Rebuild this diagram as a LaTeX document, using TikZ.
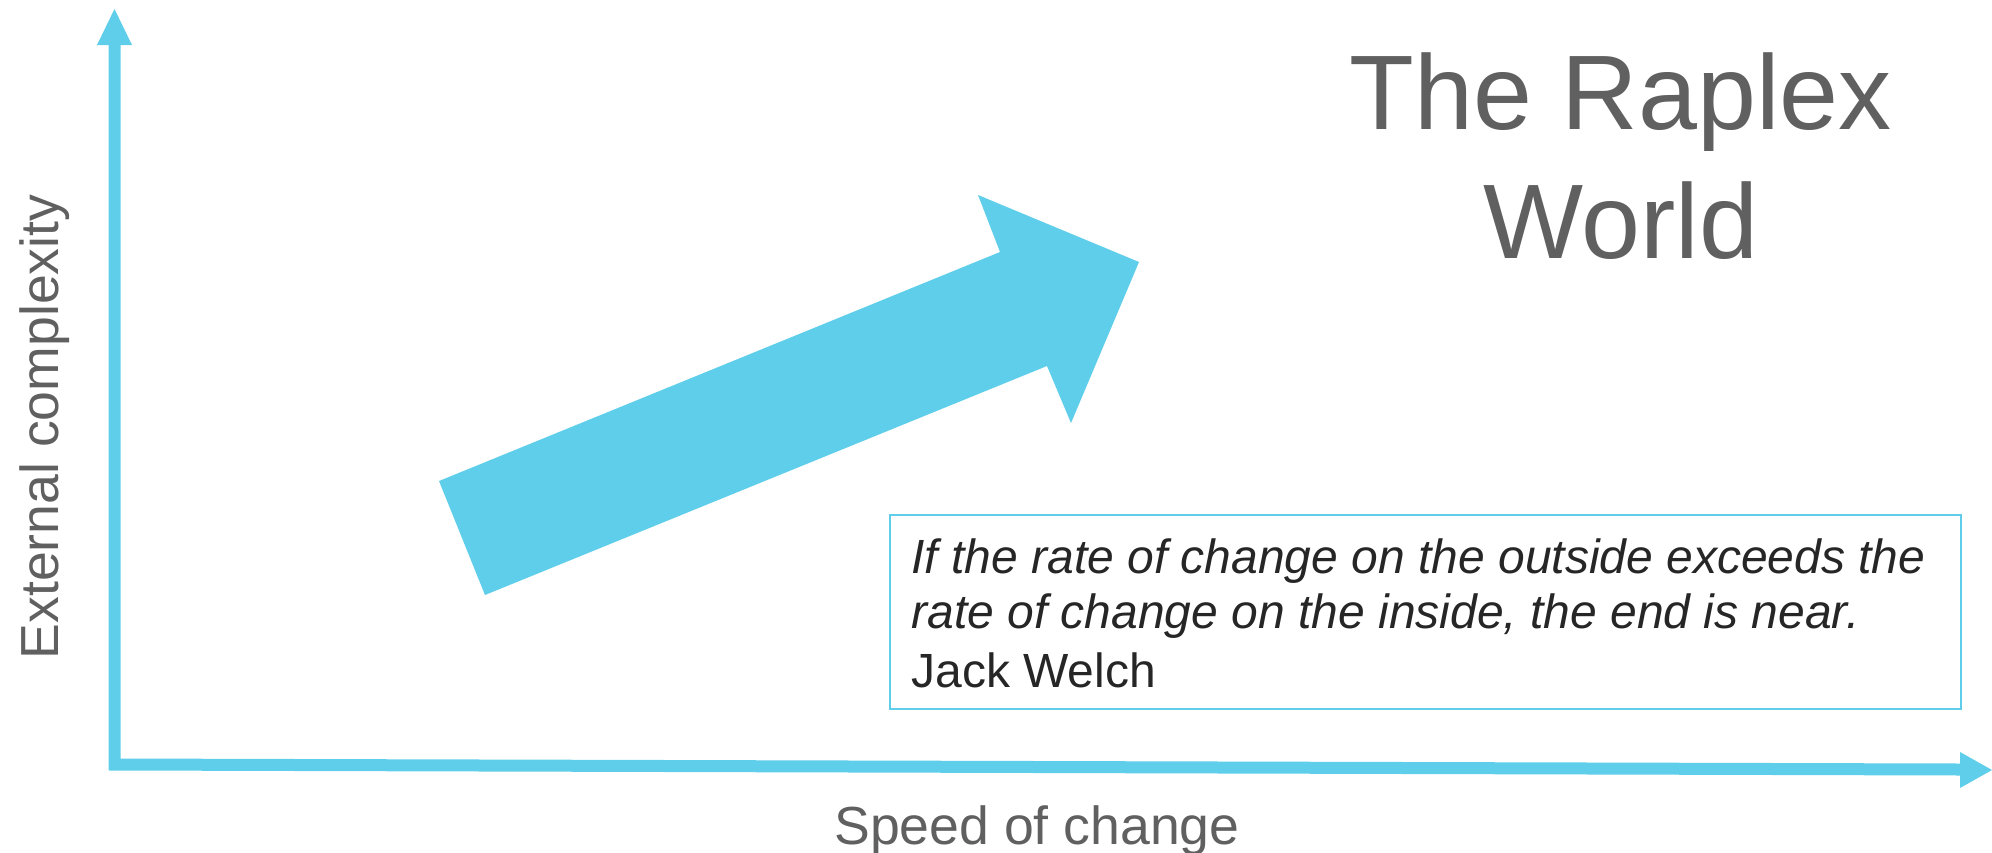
\documentclass[tikz,border=0pt]{standalone}
\usepackage{fontspec}
\setmainfont{Liberation Sans}
\definecolor{axblue}{RGB}{94,206,234}
\definecolor{titlegray}{RGB}{96,96,96}
\definecolor{quotegray}{RGB}{38,38,38}
\tikzset{
  axisline/.style={draw=axblue, line width=6pt, miter limit=10},
  headfill/.style={fill=axblue, draw=none},
  lbl/.style={inner sep=0pt, text=titlegray, font=\fontsize{26.8}{32}\selectfont},
  titletext/.style={inner sep=0pt, text=titlegray, font=\fontsize{53}{64}\selectfont},
  quotetext/.style={inner sep=0pt, text=quotegray, anchor=base west, font=\fontsize{24}{28}\selectfont},
  quotebox/.style={draw=axblue, line width=0.8pt}
}
\begin{document}
\begin{tikzpicture}[x=0.5pt,y=-0.5pt]
\useasboundingbox (0,0) rectangle (1992,852);
% axes
\coordinate (ytop) at (114.5,44);
\coordinate (origin) at (114.5,764.5);
\coordinate (xend) at (1961,769.5);
\draw[axisline] (ytop) -- (origin) -- (xend);
\fill[headfill] (97,45) -- (114.5,9) -- (132,45) -- cycle;
\fill[headfill] (1960,752) -- (1992,770) -- (1960,788) -- cycle;
% big arrow
\fill[headfill] (439,481) -- (1000,252) -- (978,195) -- (1139,262) -- (1071,423) -- (1047,366) -- (485,595) -- cycle;
% axis labels
\node[lbl, rotate=90, anchor=base] (ylabel) at (58,427) {External complexity};
\node[lbl, anchor=base] (xlabel) at (1037,844) {Speed of change};
% title
\node[titletext, anchor=base] (title1) at (1621,129) {The Raplex};
\node[titletext, anchor=base] (title2) at (1621,258) {World};
% quote box
\draw[quotebox] (890,515) rectangle (1961,709);
\node[quotetext] (q1) at (911,573) {\itshape If the rate of change on the outside exceeds the};
\node[quotetext] (q2) at (911,628) {\itshape rate of change on the inside, the end is near.};
\node[quotetext] (q3) at (911,687) {Jack Welch};
\end{tikzpicture}
\end{document}
